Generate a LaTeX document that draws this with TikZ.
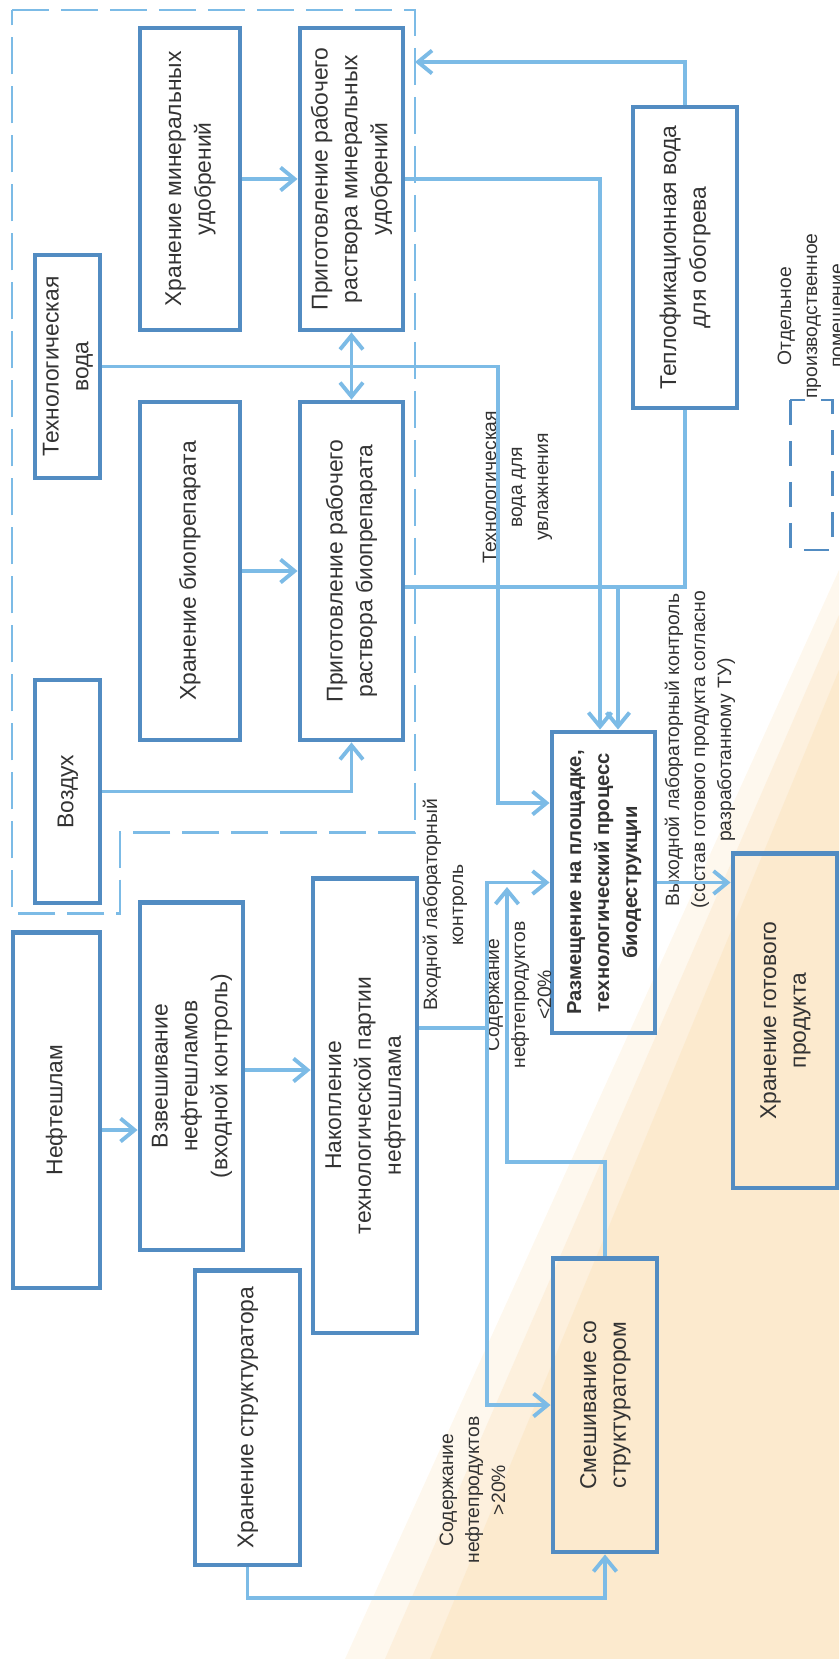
\documentclass[tikz,border=0pt]{standalone}
\usepackage{graphicx}
\usepackage{fontspec}
\setmainfont{Liberation Sans}
\usetikzlibrary{arrows.meta}
\definecolor{boxblue}{RGB}{82,140,194}
\definecolor{lineblue}{RGB}{124,187,230}
\definecolor{peach}{RGB}{252,234,206}
\newcommand{\vt}[1]{\rotatebox{90}{\begin{tabular}{@{}c@{}}#1\end{tabular}}}
\tikzset{
	blok/.style={draw=boxblue, line width=2.8pt, inner sep=0pt, text=black!80, font=\fontsize{13pt}{17pt}\selectfont},
	flow/.style={draw=lineblue, line width=2.2pt},
	note/.style={inner sep=0pt, text=black!80, font=\fontsize{11pt}{14.8pt}\selectfont},
	room/.style={draw=lineblue, line width=1.7pt, dash pattern=on 0.74cm off 0.24cm},
}

\begin{document}
\begin{tikzpicture}[x=0.02cm, y=-0.02cm, >={Straight Barb[length=0.28cm,width=0.46cm]}]
					\useasboundingbox (0,0) rectangle (839,1659);
					%фон
					\fill[peach!35] (839,570) -- (839,1659) -- (345,1659) -- cycle;
					\fill[peach!70] (839,615) -- (839,1659) -- (385,1659) -- cycle;
					\fill[peach] (839,670) -- (839,1659) -- (430,1659) -- cycle;
					%помещение
					\coordinate (rnw) at (12,10);
					\coordinate (rne) at (415,10);
					\draw[room] (rnw) -- (rne) -- (415,832) -- (120,832) -- (120,913) -- (12,913) -- cycle;
					%блоки
					\node[blok, minimum width=2cm, minimum height=6.04cm] (ming) at (190,179) {\vt{Хранение минеральных\\удобрений}};
					\node[blok, minimum width=2.06cm, minimum height=6.04cm] (minsol) at (351.5,179) {\vt{Приготовление рабочего\\раствора минеральных\\удобрений}};
					\node[blok, minimum width=1.3cm, minimum height=4.46cm] (water) at (67.5,366.5) {\vt{Технологическая\\вода}};
					\node[blok, minimum width=2cm, minimum height=6.76cm] (bio) at (190,571) {\vt{Хранение биопрепарата}};
					\node[blok, minimum width=2.06cm, minimum height=6.76cm] (biosol) at (351.5,571) {\vt{Приготовление рабочего\\раствора биопрепарата}};
					\node[blok, minimum width=1.3cm, minimum height=4.46cm] (air) at (67.5,791.5) {\vt{Воздух}};
					\node[blok, minimum width=1.74cm, minimum height=7.12cm] (sludge) at (56.5,1110) {\vt{Нефтешлам}};
					\node[blok, minimum width=2.06cm, minimum height=6.96cm] (weigh) at (191.5,1076) {\vt{Взвешивание\\нефтешламов\\(входной контроль)}};
					\node[blok, minimum width=2.08cm, minimum height=9.1cm] (accum) at (365,1105.5) {\vt{Накопление\\технологической партии\\нефтешлама}};
					\node[blok, minimum width=2.1cm, minimum height=5.9cm] (struct) at (247.5,1417.5) {\vt{Хранение структуратора}};
					\node[blok, minimum width=2.08cm, minimum height=5.88cm] (mix) at (605,1405) {\vt{Смешивание со\\структуратором}};
					\node[blok, minimum width=2.06cm, minimum height=6.02cm, font=\fontsize{11.5pt}{16pt}\selectfont\bfseries] (place) at (603.5,882.5) {\vt{Размещение на площадке,\\технологический процесс\\биодеструкции}};
					\node[blok, minimum width=2.08cm, minimum height=6.02cm] (heat) at (685,257.5) {\vt{Теплофикационная вода\\для обогрева}};
					\node[blok, minimum width=2.08cm, minimum height=6.7cm] (store) at (785,1020.5) {\vt{Хранение готового\\продукта}};
					%подписи
					\node[note] (lwater) at (517,487) {\vt{Технологическая\\вода для\\увлажнения}};
					\node[note] (lin) at (445,905) {\vt{Входной лабораторный\\контроль}};
					\node[note] (lless) at (520,995) {\vt{Содержание\\нефтепродуктов\\<20\%}};
					\node[note] (lmore) at (474,1490) {\vt{Содержание\\нефтепродуктов\\>20\%}};
					\node[note] (lout) at (700,750) {\vt{Выходной лабораторный контроль\\(состав готового продукта согласно\\разработанному ТУ)}};
					\node[note] (lroom) at (812,316) {\vt{Отдельное\\производственное\\помещение}};
					\draw[draw=boxblue, line width=1.7pt, dash pattern=on 0.5cm off 0.32cm] (790,400) rectangle (832,550);
					%связи
					\draw[flow,->] (ming) -- (minsol);
					\draw[flow,<->] (minsol) -- (biosol);
					\draw[flow,->] (bio) -- (biosol);
					\draw[flow,->] (air.east) -| (biosol.south);
					\draw[flow,->] (water.east) -| (498,803) -- (place.west |- 0,803);
					\draw[flow,->] (minsol.east) -| (place.north -| 600,0);
					\draw[flow] (biosol.east |- 0,587) -- (heat.south |- 0,587) -- (heat.south);
					\coordinate (j1) at (618,587);
					\draw[flow,->] (j1) -- (place.north -| j1);
					\draw[flow,->] (heat.north) -- (heat.north |- 0,62) -- (rne |- 0,62);
					\draw[flow,->] (sludge.east |- 0,1130) -- (weigh.west |- 0,1130);
					\draw[flow,->] (weigh.east |- 0,1070) -- (accum.west |- 0,1070);
					\coordinate (j2) at (487,1028);
					\draw[flow] (accum.east |- j2) -- (j2);
					\draw[flow,->] (j2) |- (place.west);
					\draw[flow,->] (j2) |- (mix.west);
					\draw[flow,->] (struct.south) -- (struct.south |- 0,1598) -| (mix.south);
					\coordinate (j3) at (507,887);
					\draw[flow,->] (mix.north) |- (j3 |- 0,1162) -- (j3);
					\draw[flow,->] (place.east) -- (place.east -| store.west);
		\end{tikzpicture}
\end{document}
